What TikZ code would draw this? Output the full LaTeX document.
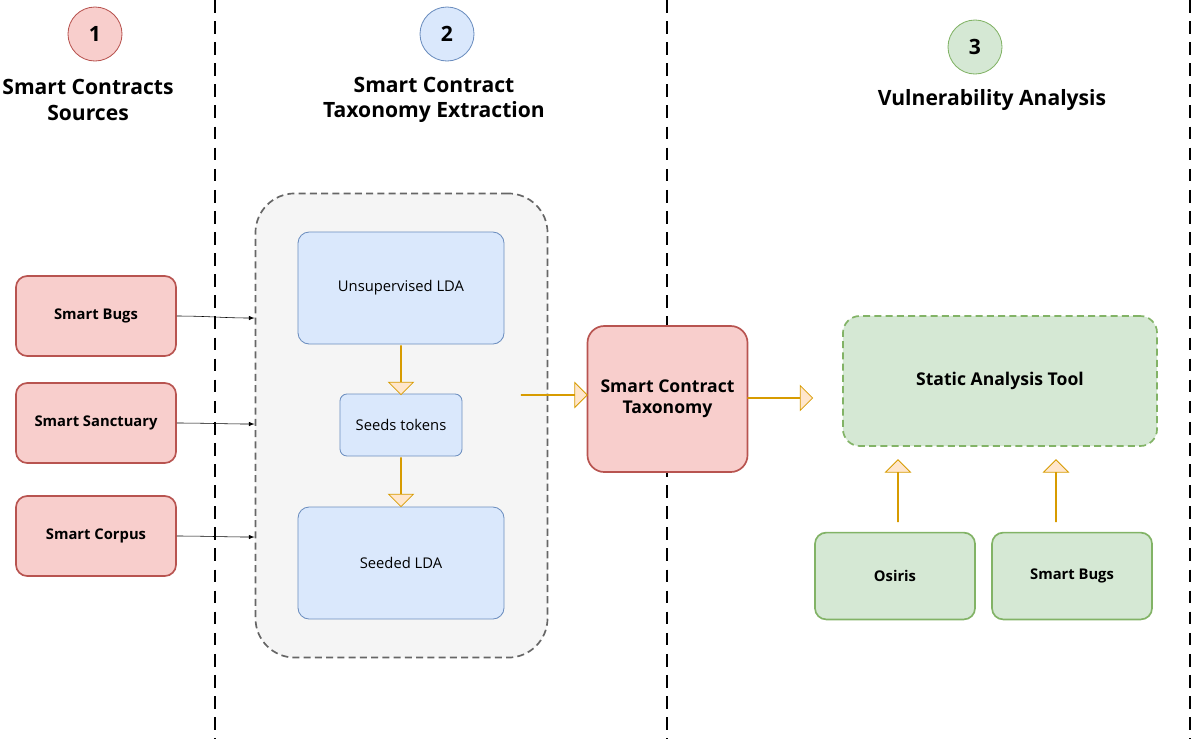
\documentclass[tikz,border=0pt]{standalone}
\usepackage{fontspec}
\setmainfont{Open Sans}
\usetikzlibrary{shapes.arrows}
\definecolor{redf}{HTML}{F8CECC}\definecolor{redd}{HTML}{B85450}
\definecolor{bluef}{HTML}{DAE8FC}\definecolor{blued}{HTML}{6C8EBF}
\definecolor{greenf}{HTML}{D5E8D4}\definecolor{greend}{HTML}{82B366}
\definecolor{yelf}{HTML}{FFE6CC}\definecolor{yeld}{HTML}{D79B00}
\tikzset{>=latex,
  redbox/.style={draw=redd,fill=redf,line width=1.2pt,rounded corners=8pt,font=\fontsize{10.5}{12}\selectfont\bfseries},
  bluebox/.style={draw=blued,fill=bluef,line width=0.6pt,rounded corners=8pt,font=\fontsize{10.5}{12}\selectfont},
  greenbox/.style={draw=greend,fill=greenf,line width=1.2pt,rounded corners=8pt,font=\fontsize{10.5}{12}\selectfont\bfseries},
  stagenum/.style={circle,minimum size=1.35cm,line width=0.6pt,font=\fontsize{15}{18}\selectfont\bfseries},
  title/.style={align=center,font=\fontsize{15}{18}\selectfont\bfseries},
  fat/.style={single arrow,draw=yeld,fill=yelf,line width=0.6pt,inner sep=0pt,
    minimum width=0.4cm,single arrow head extend=0.3cm,single arrow head indent=0pt},
  sep/.style={line width=1.8pt,dash pattern=on 9pt off 6pt}}
\begin{document}
\begin{tikzpicture}[x=0.025cm,y=-0.025cm]
  \useasboundingbox (0,0) rectangle (1200,739);

  % separators
  \foreach \x in {215,667,1190}
    \draw[sep] (\x,0) -- (\x,739);

  % headers
  \node[stagenum,fill=redf,draw=redd] (s1) at (95,34) {1};
  \node[stagenum,fill=bluef,draw=blued] (s2) at (447,34) {2};
  \node[stagenum,fill=greenf,draw=greend] (s3) at (975,47) {3};
  \node[title] (t1) at (88,100) {Smart Contracts\\Sources};
  \node[title] (t2) at (434,100) {Smart Contract\\Taxonomy Extraction};
  \node[title] (t3) at (992,100) {Vulnerability Analysis};

  % sources
  \node[redbox,minimum width=4cm,minimum height=2cm] (bugs) at (96,316) {Smart Bugs};
  \node[redbox,minimum width=4cm,minimum height=2cm] (sanct) at (96,423) {Smart Sanctuary};
  \node[redbox,minimum width=4cm,minimum height=2cm] (corpus) at (96,536) {Smart Corpus};

  % extraction
  \node[draw=black!60,fill=black!4,line width=1.2pt,dash pattern=on 5pt off 3pt,rounded corners=28pt,
        minimum width=7.3cm,minimum height=11.6cm] (box) at (401.5,425.5) {};
  \node[bluebox,minimum width=5.15cm,minimum height=2.8cm] (lda) at (401,288) {Unsupervised LDA};
  \node[bluebox,minimum width=3.05cm,minimum height=1.55cm,rounded corners=5pt] (seeds) at (401,425) {Seeds tokens};
  \node[bluebox,minimum width=5.15cm,minimum height=2.8cm] (slda) at (401,563) {Seeded LDA};

  \draw[->] (bugs.east) to[out=0,in=180] (box.west |- 0,318);
  \draw[->] (sanct.east) to[out=0,in=180] (box.west |- 0,424);
  \draw[->] (corpus.east) to[out=0,in=180] (box.west |- 0,537);

  \node[fat,minimum height=1.22cm,rotate=-90] (a1) at (401,370) {};
  \node[fat,minimum height=1.22cm,rotate=-90] (a2) at (401,482) {};

  % taxonomy
  \node[redbox,minimum width=4cm,minimum height=3.65cm,rounded corners=12pt,align=center,
        font=\fontsize{12.5}{15}\selectfont\bfseries] (tax) at (667.5,399) {Smart Contract\\Taxonomy};
  \node[fat,minimum height=1.65cm] (a3) at (554,395) {};
  \node[fat,minimum height=1.62cm] (a4) at (780,398) {};

  % analysis
  \node[greenbox,dash pattern=on 5pt off 3pt,minimum width=7.85cm,minimum height=3.25cm,rounded corners=12pt,
        font=\fontsize{12.5}{15}\selectfont\bfseries] (tool) at (1000,381) {Static Analysis Tool};
  \node[greenbox,minimum width=4cm,minimum height=2.17cm] (osiris) at (895,576) {Osiris};
  \node[greenbox,minimum width=4cm,minimum height=2.17cm] (sbugs) at (1072,576) {Smart Bugs};
  \node[fat,minimum height=1.55cm,rotate=90] (a5) at (898,491) {};
  \node[fat,minimum height=1.55cm,rotate=90] (a6) at (1056,491) {};
\end{tikzpicture}
\end{document}
